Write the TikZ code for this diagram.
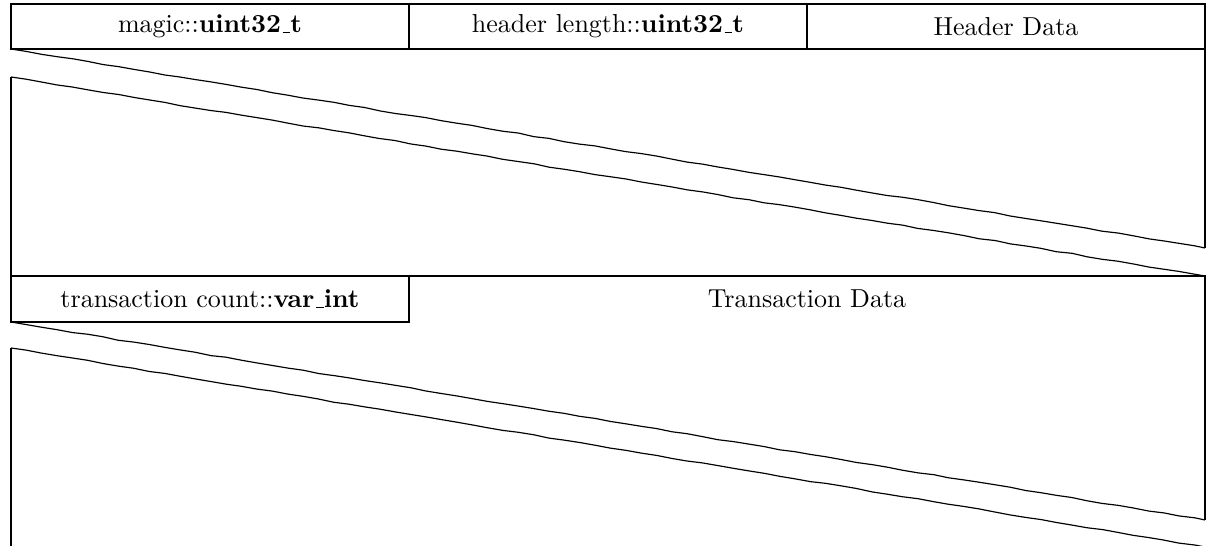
\documentclass[tikz,border=0pt]{standalone}
\usetikzlibrary{decorations.pathmorphing}
\newcommand\myul{\leavevmode\kern.06em\vbox{\hrule width.3em height .45pt}}
\begin{document}
\begin{tikzpicture}[x=0.385pt,y=-0.385pt,
  edge/.style={line width=0.45pt},
  torn/.style={line width=0.45pt,decorate,decoration={random steps,segment length=6pt,amplitude=0.2pt}},
  label/.style={inner sep=0pt,font=\normalsize}]
\pgfmathsetseed{7}
\useasboundingbox (0,0) rectangle (1212,546);
% top row
\draw[edge] (11,4) rectangle (1205,49);
\draw[edge] (409,4) -- (409,49);
\draw[edge] (807,4) -- (807,49);
\node[label] (magic) at (210,26.5) {magic::\textbf{uint32\myul t}};
\node[label] (hlen) at (608,26.5) {header length::\textbf{uint32\myul t}};
\node[label] (hdata) at (1006,26.5) {Header Data};
% first torn piece
\draw[edge] (1205,49) -- (1205,248);
\draw[torn] (11,49) -- (1205,248);
% second torn piece
\draw[torn] (11,77) -- (1205,276);
\draw[edge] (11,77) -- (11,276) -- (1205,276) -- (1205,520);
\draw[edge] (11,276) -- (11,322) -- (409,322) -- (409,276);
\node[label] (tcount) at (210,299) {transaction count::\textbf{var\myul int}};
\node[label] (tdata) at (807,299) {Transaction Data};
\draw[torn] (11,322) -- (1205,520);
% third torn piece
\draw[torn] (11,348) -- (1205,547);
\draw[edge] (11,348) -- (11,546);
\end{tikzpicture}
\end{document}
